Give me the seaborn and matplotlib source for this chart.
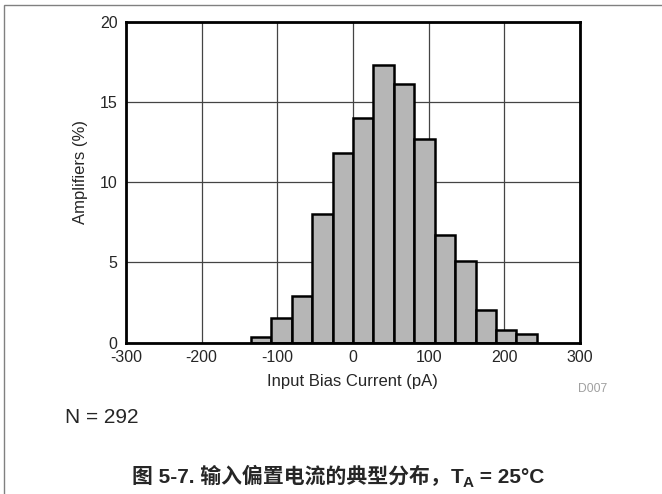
import numpy as np
import pandas as pd
import matplotlib
matplotlib.use("Agg")
import matplotlib.pyplot as plt
import seaborn as sns
from matplotlib.patches import Rectangle

# ---- data ----
bin_starts = [-135, -108, -81, -54, -27, 0, 27, 54, 81, 108, 135, 162, 189, 216]
bin_width = 27
percent = [0.34, 1.5, 2.9, 8.0, 11.8, 14.0, 17.3, 16.1, 12.7, 6.7, 5.1, 2.0, 0.8, 0.5]
x_ticks = [-300, -200, -100, 0, 100, 200, 300]
y_ticks = [0, 5, 10, 15, 20]
x_label = "Input Bias Current (pA)"
y_label = "Amplifiers (%)"
code_label = "D007"
n_label = "N = 292"
caption_parts = ["图 5-7. 输入偏置电流的典型分布，", "T", "A", " = 25°C"]

sns.set_theme(style="white")
fam = ['Liberation Sans', 'Noto Sans CJK SC', 'DejaVu Sans']
plt.rcParams['font.family'] = fam

W, H = 662, 494
fig = plt.figure(figsize=(W / 100, H / 100), dpi=100)
fig.patch.set_facecolor('white')

# outer frame (top & left visible)
fig.add_artist(Rectangle((4 / W, -0.1), 1.2, 1 - 5 / H + 0.1, transform=fig.transFigure,
                         fill=False, edgecolor='#808080', linewidth=1.0))

ax = fig.add_axes([126 / W, 1 - 342.5 / H, 454 / W, 320.5 / H])

df = pd.DataFrame({"x": [s + bin_width / 2 for s in bin_starts], "pct": percent})
edges = [bin_starts[0] + i * bin_width for i in range(len(bin_starts) + 1)]
sns.histplot(data=df, x="x", weights="pct", bins=edges, ax=ax,
             color="#b6b6b6", edgecolor="black", linewidth=1.8, alpha=1.0, zorder=3)

ax.set_xlim(-300, 300)
ax.set_ylim(0, 20)
ax.set_xticks(x_ticks)
ax.set_yticks(y_ticks)
ax.set_xticklabels([str(t) for t in x_ticks], fontsize=11.5)
ax.set_yticklabels([str(t) for t in y_ticks], fontsize=11.5)
ax.tick_params(axis='x', length=0, pad=5.5)
ax.tick_params(axis='y', length=0, pad=6)
ax.grid(True, color='#444444', linewidth=0.9, zorder=0)
ax.set_axisbelow(True)
for sp in ax.spines.values():
    sp.set_visible(True)
    sp.set_color('black')
    sp.set_linewidth(2.0)
    sp.set_zorder(5)

ax.set_xlabel(x_label, fontsize=12)
ax.set_ylabel(y_label, fontsize=12)
ax.xaxis.set_label_coords((352 - 126) / 454, (342.5 - 381) / 320.5)
ax.xaxis.label.set_va('center')
ax.yaxis.set_label_coords((80 - 126) / 454, (342.5 - 172) / 320.5)
ax.yaxis.label.set_va('center')

fig.text(593 / W, 1 - 389 / H, code_label, fontsize=8.7, color='#a0a0a0', ha='center', va='center')
fig.text(65 / W, 1 - 417 / H, n_label, fontsize=15, ha='left', va='center')

# caption assembled from pieces on a common baseline, centered at x=338
fig.canvas.draw()
renderer = fig.canvas.get_renderer()
base_y = 483
sizes = [15, 15, 11, 15]
dy = [0, 0, 4, 0]
texts = []
x = 0.0
for part, sz, d in zip(caption_parts, sizes, dy):
    t = fig.text(0, 0, part, fontsize=sz, fontweight='bold', ha='left', va='baseline')
    texts.append((t, x, d))
    bb = t.get_window_extent(renderer=renderer)
    x += bb.width
total = x
x0 = 338 - total / 2
for t, xo, d in texts:
    t.set_position(((x0 + xo) / W, 1 - (base_y + d) / H))

fig.savefig("out.png", dpi=100, facecolor='white')
